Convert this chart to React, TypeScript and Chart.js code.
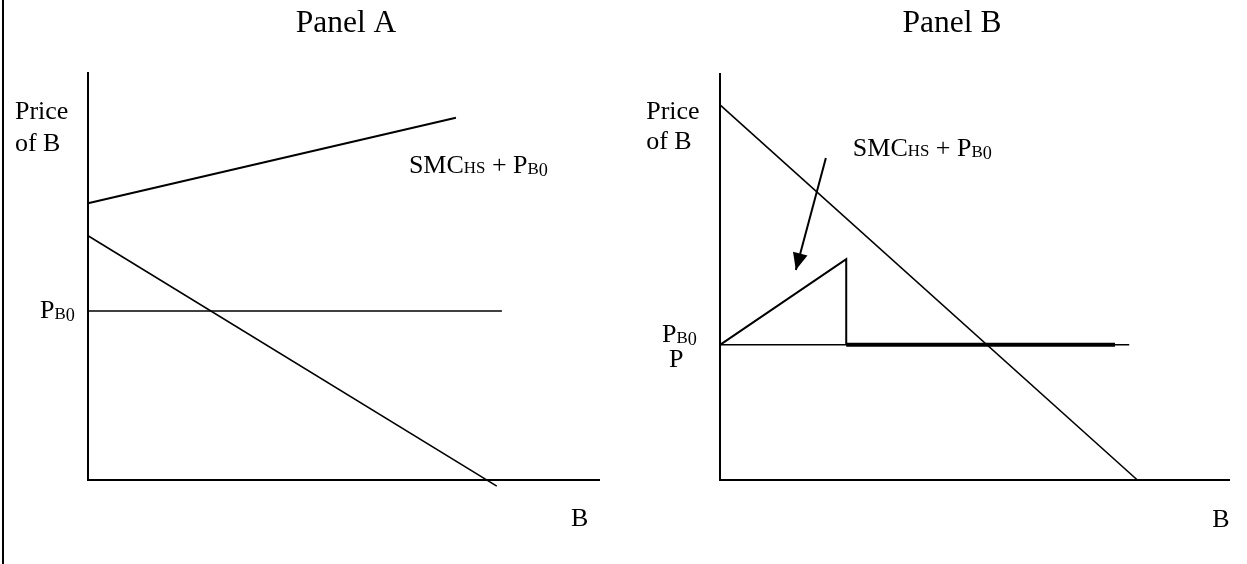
import React, { useEffect, useRef } from "react";
import { Chart, registerables } from "chart.js";

Chart.register(...registerables);

// ---------- data (abstract units: quantity 0..100, price 0..100) ----------
// Panel A
const A_SMC_X = [0, 72];
const A_SMC_Y = [68, 89];
const A_DEMAND_X = [0, 80];
const A_DEMAND_Y = [60, -1.5];
const A_PB0_X = [0, 81];
const A_PB0_Y = [41.5, 41.5];
// Panel B
const B_DEMAND_X = [0, 82];
const B_DEMAND_Y = [92.4, 0];
const B_PB0_X = [0, 80.4];
const B_PB0_Y = [33.3, 33.3];
const B_THICK_X = [24.8, 77.6];
const B_THICK_Y = [33.3, 33.3];
const B_SMC_X = [0, 24.8, 24.8];
const B_SMC_Y = [33.3, 54.4, 33.3];
const B_ARROW_X = [20.8, 14.9];
const B_ARROW_Y = [79.3, 51.7];

// ---------- texts ----------
const PANEL_TITLES = ["Panel A", "Panel B"];
const Y_LABEL_LINES = ["Price", "of B"];
const X_LABEL = "B";
const SMC_LABEL = [
  { t: "SMC" },
  { t: "HS", s: 0.65 },
  { t: " + P" },
  { t: "B", s: 0.65, dy: 0.04 },
  { t: "0", s: 0.7, dy: 0.14 },
];
const PB0_LABEL = [
  { t: "P" },
  { t: "B", s: 0.65, dy: 0.04 },
  { t: "0", s: 0.7, dy: 0.14 },
];

const FONT = '"Liberation Serif", "Times New Roman", serif';
const LABEL_SIZE = 26;
const TITLE_SIZE = 31.5;

type Seg = { t: string; s?: number; dy?: number };

const pts = (xs: number[], ys: number[]) => xs.map((x, i) => ({ x, y: ys[i] }));

function richWidth(ctx: CanvasRenderingContext2D, segs: Seg[], size: number) {
  let w = 0;
  for (const s of segs) {
    ctx.font = `${size * (s.s ?? 1)}px ${FONT}`;
    w += ctx.measureText(s.t).width;
  }
  return w;
}

function drawRich(ctx: CanvasRenderingContext2D, x: number, cy: number, segs: Seg[], size: number) {
  const base = cy + size * 0.33;
  let cx = x;
  ctx.textAlign = "left";
  ctx.textBaseline = "alphabetic";
  ctx.fillStyle = "#000";
  for (const s of segs) {
    const fs = size * (s.s ?? 1);
    ctx.font = `${fs}px ${FONT}`;
    ctx.fillText(s.t, cx, base + (s.dy ?? 0) * size);
    cx += ctx.measureText(s.t).width;
  }
}

type Label = { segs: Seg[]; x: number; y: number; size?: number };

function makeAnnotPlugin(title: string, titleX: number, titleY: number, labels: Label[], arrowIdx: number | null) {
  return {
    id: "annot",
    afterDraw(chart: any) {
      const ctx: CanvasRenderingContext2D = chart.ctx;
      const xs = chart.scales.x;
      const ys = chart.scales.y;
      ctx.save();
      // title
      const tsegs = [{ t: title }];
      const tw = richWidth(ctx, tsegs, TITLE_SIZE);
      drawRich(ctx, titleX - tw / 2, titleY, tsegs, TITLE_SIZE);
      // labels anchored in data coordinates
      for (const l of labels) {
        drawRich(ctx, xs.getPixelForValue(l.x), ys.getPixelForValue(l.y), l.segs, l.size ?? LABEL_SIZE);
      }
      // arrowhead
      if (arrowIdx !== null) {
        const meta = chart.getDatasetMeta(arrowIdx);
        const d = meta.data;
        const p0 = d[d.length - 2];
        const p1 = d[d.length - 1];
        const ang = Math.atan2(p1.y - p0.y, p1.x - p0.x);
        const len = 17;
        const hw = 7.5;
        const bx = p1.x - len * Math.cos(ang);
        const by = p1.y - len * Math.sin(ang);
        const px = -Math.sin(ang);
        const py = Math.cos(ang);
        ctx.beginPath();
        ctx.moveTo(p1.x, p1.y);
        ctx.lineTo(bx + hw * px, by + hw * py);
        ctx.lineTo(bx - hw * px, by - hw * py);
        ctx.closePath();
        ctx.fillStyle = "#000";
        ctx.fill();
      }
      ctx.restore();
    },
  };
}

function lineDs(data: { x: number; y: number }[], width: number) {
  return {
    data,
    showLine: true,
    borderColor: "#000",
    backgroundColor: "#000",
    borderWidth: width,
    pointRadius: 0,
    pointHoverRadius: 0,
    tension: 0,
    clip: false as any,
    borderCapStyle: "butt" as const,
  };
}

function baseOptions(padding: { left: number; top: number; right: number; bottom: number }) {
  const axis = (isX: boolean) => ({
    type: "linear" as const,
    min: 0,
    max: 100,
    display: true,
    grid: { display: false, drawTicks: false },
    ticks: { display: false },
    border: { display: true, width: 2, color: "#000" },
    afterFit: (s: any) => {
      if (isX) s.height = 0;
      else s.width = 0;
    },
  });
  return {
    responsive: false,
    animation: false as const,
    devicePixelRatio: 1,
    layout: { padding },
    plugins: { legend: { display: false }, tooltip: { enabled: false }, title: { display: false } },
    events: [] as any[],
    scales: { x: axis(true), y: axis(false) },
  };
}

export default function App() {
  const refA = useRef<HTMLCanvasElement>(null);
  const refB = useRef<HTMLCanvasElement>(null);

  useEffect(() => {
    const chartA = new Chart(refA.current as HTMLCanvasElement, {
      type: "scatter",
      data: {
        datasets: [
          lineDs(pts(A_SMC_X, A_SMC_Y), 2),
          lineDs(pts(A_DEMAND_X, A_DEMAND_Y), 1.6),
          lineDs(pts(A_PB0_X, A_PB0_Y), 1.5),
        ],
      },
      options: baseOptions({ left: 88, top: 73, right: 21, bottom: 84 }) as any,
      plugins: [
        makeAnnotPlugin(PANEL_TITLES[0], 346, 22, [
          { segs: [{ t: Y_LABEL_LINES[0] }], x: -14.3, y: 90.7 },
          { segs: [{ t: Y_LABEL_LINES[1] }], x: -14.3, y: 83.0 },
          { segs: SMC_LABEL, x: 62.8, y: 77.6 },
          { segs: PB0_LABEL, x: -9.4, y: 42.0 },
          { segs: [{ t: X_LABEL }], x: 94.5, y: -9.3 },
        ], null) as any,
      ],
    });

    const chartB = new Chart(refB.current as HTMLCanvasElement, {
      type: "scatter",
      data: {
        datasets: [
          lineDs(pts(B_DEMAND_X, B_DEMAND_Y), 1.6),
          lineDs(pts(B_PB0_X, B_PB0_Y), 1.5),
          lineDs(pts(B_THICK_X, B_THICK_Y), 4),
          lineDs(pts(B_SMC_X, B_SMC_Y), 2),
          lineDs(pts(B_ARROW_X, B_ARROW_Y), 2),
        ],
      },
      options: baseOptions({ left: 100, top: 74, right: 18, bottom: 84 }) as any,
      plugins: [
        makeAnnotPlugin(PANEL_TITLES[1], 332, 22, [
          { segs: [{ t: Y_LABEL_LINES[0] }], x: -14.5, y: 91.1 },
          { segs: [{ t: Y_LABEL_LINES[1] }], x: -14.5, y: 83.7 },
          { segs: SMC_LABEL, x: 26.1, y: 82.0 },
          { segs: PB0_LABEL, x: -11.4, y: 36.2 },
          { segs: [{ t: "P" }], x: -10.0, y: 30.0 },
          { segs: [{ t: X_LABEL }], x: 96.7, y: -9.4 },
        ], 4) as any,
      ],
    });

    return () => {
      chartA.destroy();
      chartB.destroy();
    };
  }, []);

  return (
    <div
      style={{
        position: "absolute",
        left: 0,
        top: 0,
        width: 1247,
        height: 564,
        background: "#fff",
        overflow: "hidden",
      }}
    >
      <div style={{ position: "absolute", left: 2, top: 0, width: 2, height: 564, background: "#000" }} />
      <canvas ref={refA} width={620} height={564} style={{ position: "absolute", left: 0, top: 0, width: 620, height: 564 }} />
      <canvas ref={refB} width={627} height={564} style={{ position: "absolute", left: 620, top: 0, width: 627, height: 564 }} />
    </div>
  );
}
